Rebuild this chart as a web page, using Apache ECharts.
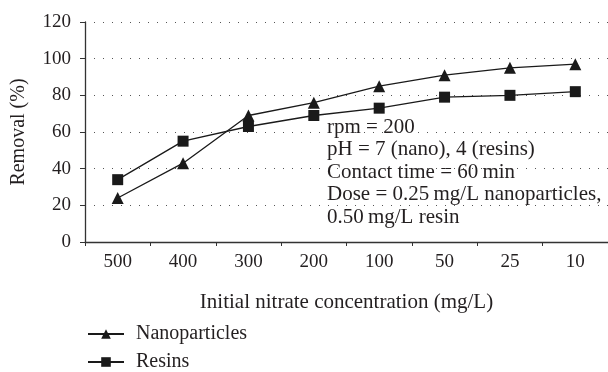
<!DOCTYPE html>
<html>
<head>
<meta charset="utf-8">
<script src="https://cdn.jsdelivr.net/npm/echarts@6/dist/echarts.min.js"></script>
<style>html,body{margin:0;padding:0;background:#fff}#c{width:608px;height:372px}</style>
</head>
<body>
<div id="c"></div>
<script>
const categories = ['500','400','300','200','100','50','25','10'];
const nanoparticles = [24, 43, 69, 76, 85, 91, 95, 97];
const resins = [34, 55, 63, 69, 73, 79, 80, 82];
const yTicks = {min: 0, max: 120, interval: 20};
const noteLines = ['rpm = 200', 'pH = 7 (nano), 4 (resins)', 'Contact time = 60\u2009min', 'Dose = 0.25\u2009mg/L nanoparticles,', '0.50\u2009mg/L resin'];

const FONT = '"Liberation Serif", "DejaVu Serif", serif';
const TXT = '#231f20';
const chart = echarts.init(document.getElementById('c'));
const legendText = {fontFamily: FONT, fontSize: 20, color: TXT, padding: [0, 0, 0, 7]};
chart.setOption({
  animation: false,
  backgroundColor: '#fff',
  textStyle: {fontFamily: FONT, color: TXT},
  grid: {left: 85, top: 22, width: 525, height: 220, containLabel: false},
  xAxis: {
    type: 'category', data: categories, boundaryGap: true,
    name: 'Initial nitrate concentration (mg/L)', nameLocation: 'middle', nameGap: 50,
    nameTextStyle: {fontFamily: FONT, fontSize: 21, color: TXT},
    axisLine: {lineStyle: {color: '#333', width: 1.3}},
    axisTick: {show: true, length: 4, inside: false, lineStyle: {color: '#333'}},
    axisLabel: {fontFamily: FONT, fontSize: 19, color: TXT, margin: 11},
    splitLine: {show: false}
  },
  yAxis: {
    type: 'value', min: yTicks.min, max: yTicks.max, interval: yTicks.interval,
    name: 'Removal (%)', nameLocation: 'middle', nameGap: 56,
    nameTextStyle: {fontFamily: FONT, fontSize: 20, color: TXT},
    axisLine: {show: true, lineStyle: {color: '#333', width: 1.3}},
    axisTick: {show: true, length: 5, lineStyle: {color: '#333'}},
    axisLabel: {fontFamily: FONT, fontSize: 19, color: TXT, margin: 14},
    splitLine: {show: true, lineStyle: {color: '#555', width: 1, type: [1, 8]}}
  },
  legend: [
    {left: 87, top: 324, padding: 0, itemWidth: 36, itemHeight: 12, itemGap: 0, textStyle: legendText, data: ['Nanoparticles']},
    {left: 87, top: 352, padding: 0, itemWidth: 36, itemHeight: 12, itemGap: 0, textStyle: legendText, data: ['Resins']}
  ],
  series: [
    {name: 'Nanoparticles', type: 'line', data: nanoparticles, symbol: 'triangle', symbolSize: 12,
     itemStyle: {color: '#1a1a1a'}, lineStyle: {color: '#1a1a1a', width: 1.3}},
    {name: 'Resins', type: 'line', data: resins, symbol: 'rect', symbolSize: 11,
     itemStyle: {color: '#1a1a1a'}, lineStyle: {color: '#1a1a1a', width: 1.3}}
  ],
  graphic: noteLines.map((t, i) => ({
    type: 'text', x: 327, y: 127 + i * 22.5,
    style: {text: t, font: '21px ' + FONT, fill: TXT, verticalAlign: 'middle'}
  }))
});
</script>
</body>
</html>
